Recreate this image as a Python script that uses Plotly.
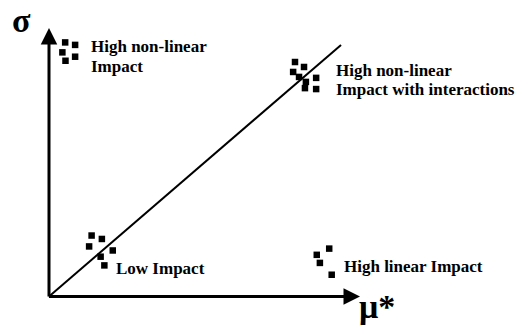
import plotly.graph_objects as go

# Morris screening sketch: mean of absolute elementary effects (mu*) vs. their spread (sigma)
# Units are arbitrary; the mu* axis runs from 0 to 10.

# Parameter groups (mu*, sigma)
nonlinear_mu = [0.52, 0.84, 0.43, 0.53, 0.84]
nonlinear_sigma = [8.17, 8.09, 7.85, 7.58, 7.71]

interaction_mu = [7.91, 7.85, 8.20, 8.04, 8.26, 8.59, 8.59, 8.23]
interaction_sigma = [7.54, 7.22, 7.38, 7.06, 6.90, 7.03, 6.67, 6.70]

low_mu = [1.37, 1.70, 1.29, 2.05, 1.66, 1.78]
low_sigma = [1.96, 1.85, 1.61, 1.48, 1.28, 1.00]

linear_mu = [9.01, 8.61, 8.71, 9.09]
linear_sigma = [1.54, 1.34, 1.08, 0.70]

# Reference diagonal sigma ~ mu*
diag_mu = [0.0, 9.39]
diag_sigma = [0.0, 8.09]

# Axis extents
mu_axis_end = 10.0
sigma_axis_end = 8.63

FONT = "Liberation Serif, Times New Roman, serif"
BLACK = "#000000"

fig = go.Figure()

fig.add_trace(go.Scatter(
    x=diag_mu, y=diag_sigma, mode="lines",
    line=dict(color=BLACK, width=2), hoverinfo="skip", showlegend=False,
))

for xs, ys in [(nonlinear_mu, nonlinear_sigma),
               (interaction_mu, interaction_sigma),
               (low_mu, low_sigma),
               (linear_mu, linear_sigma)]:
    fig.add_trace(go.Scatter(
        x=xs, y=ys, mode="markers",
        marker=dict(symbol="square", size=6.5, color=BLACK, line=dict(width=0)),
        showlegend=False,
    ))

annotations = []

# Axis arrows
annotations.append(dict(
    x=mu_axis_end, y=0, ax=-0.05, ay=0, xref="x", yref="y", axref="x", ayref="y",
    text="", showarrow=True, arrowhead=2, arrowsize=1.1, arrowwidth=3,
    arrowcolor=BLACK, standoff=0, startstandoff=0,
))
annotations.append(dict(
    x=0, y=sigma_axis_end, ax=0, ay=-0.05, xref="x", yref="y", axref="x", ayref="y",
    text="", showarrow=True, arrowhead=2, arrowsize=1.1, arrowwidth=3,
    arrowcolor=BLACK, standoff=0, startstandoff=0,
))

def label(x, y, text, size=17, anchor="left"):
    annotations.append(dict(
        x=x, y=y, xref="x", yref="y", text=text, showarrow=False,
        xanchor=anchor, yanchor="middle",
        font=dict(family=FONT, size=size, color=BLACK),
    ))

label(1.29, 8.05, "<b>High non-linear</b>")
label(1.29, 7.39, "<b>Impact</b>")
label(9.17, 7.28, "<b>High non-linear</b>")
label(9.17, 6.66, "<b>Impact with interactions</b>")
label(2.09, 0.91, "<b>Low Impact</b>")
label(9.42, 0.96, "<b>High linear Impact</b>")

# Axis titles
label(-0.87, 8.88, "<b>σ</b>", size=34, anchor="center")
label(9.90, -0.32, "<b>μ*</b>", size=34)

fig.update_layout(
    width=518, height=330,
    margin=dict(l=0, r=0, t=0, b=0),
    paper_bgcolor="white", plot_bgcolor="white",
    annotations=annotations,
    xaxis=dict(range=[-1.5756, 15.0804], visible=False, fixedrange=True),
    yaxis=dict(range=[-1.0772, 9.5338], visible=False, fixedrange=True),
)

fig.write_html("out.html")
